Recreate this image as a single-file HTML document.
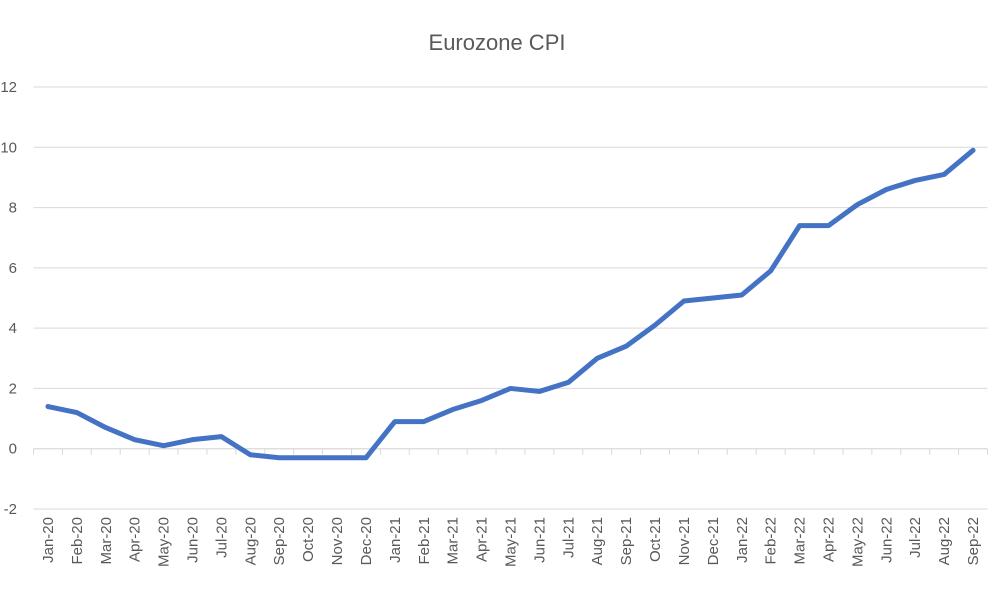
<!DOCTYPE html>
<html><head><meta charset="utf-8"><style>
html,body{margin:0;padding:0;background:#fff;}
svg{display:block;font-family:"Liberation Sans",sans-serif;}
</style></head><body>
<svg id="c" width="1000" height="600">
<text x="497" y="50" text-anchor="middle" font-size="22" fill="#595959">Eurozone CPI</text>
</svg>
<script>
const categories=["Jan-20","Feb-20","Mar-20","Apr-20","May-20","Jun-20","Jul-20","Aug-20","Sep-20","Oct-20","Nov-20","Dec-20","Jan-21","Feb-21","Mar-21","Apr-21","May-21","Jun-21","Jul-21","Aug-21","Sep-21","Oct-21","Nov-21","Dec-21","Jan-22","Feb-22","Mar-22","Apr-22","May-22","Jun-22","Jul-22","Aug-22","Sep-22"];
const cpiValues=[1.4,1.2,0.7,0.3,0.1,0.3,0.4,-0.2,-0.3,-0.3,-0.3,-0.3,0.9,0.9,1.3,1.6,2.0,1.9,2.2,3.0,3.4,4.1,4.9,5.0,5.1,5.9,7.4,7.4,8.1,8.6,8.9,9.1,9.9];
const yTicks=[-2,0,2,4,6,8,10,12];
const NS="http://www.w3.org/2000/svg";
const svg=document.getElementById('c');
const L=33.5,R=987.5,yMin=-2,yMax=12,yTop=87,yBot=509;
const bw=(R-L)/categories.length;
const x=i=>L+bw*(i+0.5);
const y=v=>yBot-(v-yMin)/(yMax-yMin)*(yBot-yTop);
function mk(t,a){const e=document.createElementNS(NS,t);for(const k in a)e.setAttribute(k,a[k]);svg.appendChild(e);return e;}
yTicks.forEach(t=>{
  const g=mk('line',{x1:L,x2:R,y1:y(t),y2:y(t),stroke:'#d9d9d9','stroke-width':1});
  
  
  const lb=mk('text',{x:17,y:y(t)+5,'text-anchor':'end','font-size':15,fill:'#595959'});
  lb.textContent=t;
  
  
});
const ax=mk('line',{x1:L,x2:R,y1:y(0),y2:y(0),stroke:'#d9d9d9','stroke-width':1});


for(let i=0;i<=categories.length;i++){
  const tk=mk('line',{x1:L+bw*i,x2:L+bw*i,y1:y(0),y2:y(0)+6,stroke:'#d9d9d9','stroke-width':1});
  
  
}
categories.forEach((c,i)=>{
  const t=mk('text',{x:0,y:0,'text-anchor':'end','font-size':15,fill:'#595959',transform:`translate(${x(i)+5},517) rotate(-90)`});
  t.textContent=c;
  
  
});
const p=mk('polyline',{points:cpiValues.map((v,i)=>x(i)+','+y(v)).join(' '),fill:'none',stroke:'#4472c4','stroke-width':5,'stroke-linejoin':'round','stroke-linecap':'round'});


</script>
</body></html>
